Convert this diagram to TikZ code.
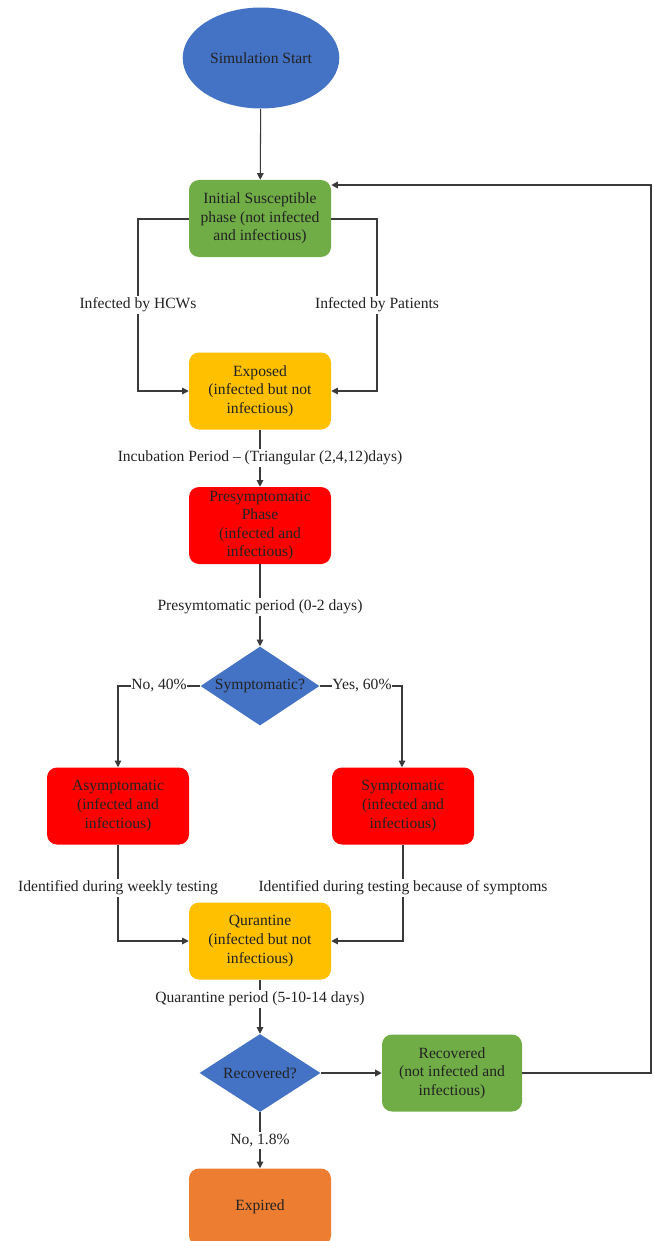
\documentclass[tikz,border=0pt]{standalone}
\usepackage{fontspec}
\setmainfont{Liberation Serif}
\usetikzlibrary{shapes.geometric,arrows.meta,calc}
\definecolor{cblue}{HTML}{4472C4}
\definecolor{cgreen}{HTML}{70AD47}
\definecolor{cyellow}{HTML}{FFC000}
\definecolor{cred}{HTML}{FF0000}
\definecolor{corange}{HTML}{ED7D31}
\definecolor{cline}{HTML}{3A3A3A}
\definecolor{ctext}{HTML}{222222}
\begin{document}
\begin{tikzpicture}[x=0.75pt,y=-0.75pt,
  every node/.style={font=\fontsize{11.7pt}{13.9pt}\selectfont, text=ctext},
  box/.style={rectangle, rounded corners=7.5pt, minimum width=106.5pt, minimum height=57.75pt, align=center, inner sep=1pt},
  decis/.style={diamond, fill=cblue, minimum width=89.25pt, minimum height=59.25pt, inner sep=0pt},
  conn/.style={draw=cline, line width=0.8pt},
  arr/.style={conn, -{Triangle[length=5pt,width=5pt]}},
  elab/.style={fill=white, inner sep=1.5pt}]
\useasboundingbox (0,0) rectangle (653,1241);

\node[ellipse, fill=cblue, minimum width=108pt, minimum height=75.75pt] (start) at (261,58) {Simulation Start};
\node[box, fill=cgreen] (init) at (260,218.5) {Initial Susceptible\\phase (not infected\\and infectious)};
\node[box, fill=cyellow] (exp) at (260,391) {Exposed\\(infected but not\\infectious)};
\node[box, fill=cred] (pre) at (260,525.5) {Presymptomatic\\Phase\\(infected and\\infectious)};
\node[decis] (sq) at (260,686) {\makebox[0pt]{Symptomatic?}};
\node[box, fill=cred] (asym) at (118,806) {Asymptomatic\\(infected and\\infectious)};
\node[box, fill=cred] (symp) at (403,806) {Symptomatic\\(infected and\\infectious)};
\node[box, fill=cyellow] (quar) at (260,941) {Qurantine\\(infected but not\\infectious)};
\node[decis, minimum width=90.75pt, minimum height=58.5pt] (rq) at (260,1073) {\makebox[0pt]{Recovered?}};
\node[box, fill=cgreen, minimum width=105pt] (rec) at (452,1073) {Recovered\\(not infected and\\infectious)};
\node[box, fill=corange] (expd) at (260,1207) {Expired};

\coordinate (hL) at (138,219);
\coordinate (hR) at (377,219);
\coordinate (sL) at (118,686);
\coordinate (sR) at (402,686);
\coordinate (loopR) at (651,1073);
\coordinate (loopT) at (651,185);

\draw[arr] (start) -- (init);
\draw[arr] (init.west |- hL) -- (hL) -- (hL |- exp.west) -- (exp.west);
\draw[arr] (init.east |- hR) -- (hR) -- (hR |- exp.east) -- (exp.east);
\node[elab] at (138,305) {Infected by HCWs};
\node[elab] at (377,305) {Infected by Patients};

\draw[arr] (exp) -- node[elab, pos=0.5] {Incubation Period -- (Triangular (2,4,12)days)} (pre);
\draw[arr] (pre) -- node[elab, pos=0.52] {Presymtomatic period (0-2 days)} (sq);

\draw[arr] (sq.west) -- (sL) -- (sL |- asym.north);
\draw[arr] (sq.east) -- (sR) -- (sR |- symp.north);
\node[elab, inner sep=0.5pt] at (159,686) {No, 40\%};
\node[elab, inner sep=0.5pt] at (362,686) {Yes, 60\%};

\draw[arr] (asym.south) -- (asym.south |- quar.west) -- (quar.west);
\draw[arr] (symp.south) -- (symp.south |- quar.east) -- (quar.east);
\node[elab] at (118,888) {Identified during weekly testing};
\node[elab] at (403,888) {Identified during testing because of symptoms};

\draw[arr] (quar) -- node[elab, pos=0.35] {Quarantine period (5-10-14 days)} (rq);
\draw[arr, line width=1.1pt] (rq.east) -- (rec.west);
\draw[arr, line width=1.1pt] (rec.east) -- (loopR) -- (loopT) -- (init.east |- loopT);
\draw[arr] (rq.south) -- node[elab, pos=0.5] {No, 1.8\%} (expd);
\end{tikzpicture}
\end{document}
